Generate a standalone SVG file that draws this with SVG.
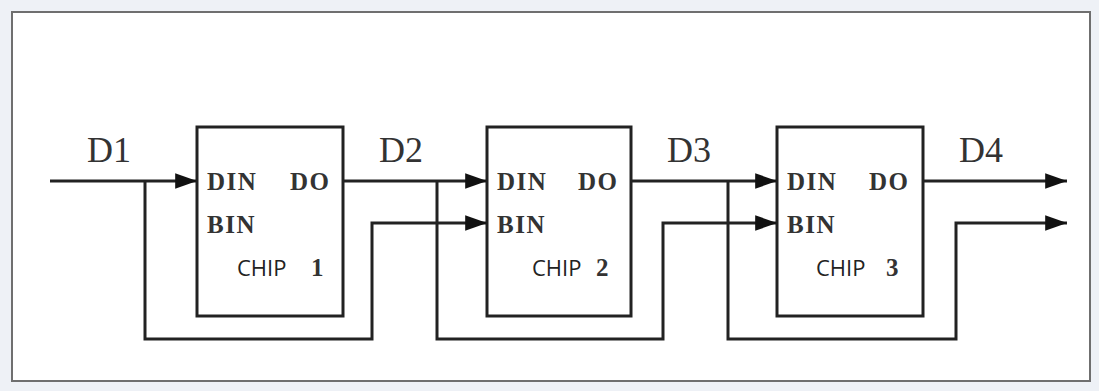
<svg xmlns="http://www.w3.org/2000/svg" width="1099" height="391" viewBox="0 0 1099 391">
<defs>
<style>
.chip{fill:#fff;stroke:#222;stroke-width:3}
.w{fill:none;stroke:#222;stroke-width:3}
.pin{font-family:"Liberation Serif",serif;font-weight:bold;font-size:25px;fill:#333;letter-spacing:1.5px}
.lab{font-family:"Liberation Serif",serif;font-size:36px;fill:#333}
.name{font-family:"Open Sans","Liberation Sans",sans-serif;font-size:22px;fill:#222}
.num{font-family:"Liberation Serif",serif;font-weight:bold;font-size:25px;fill:#333}
</style>
<marker id="ah" viewBox="0 0 14 10" refX="14" refY="5" markerWidth="7.3" markerHeight="5.2" markerUnits="strokeWidth" orient="auto">
<path d="M0,0 L14,5 L0,10 Z" fill="#111"/>
</marker>
</defs>
<rect x="0" y="0" width="1099" height="391" fill="#eef1f6"/>
<rect x="12" y="12" width="1078" height="369" fill="#fff" stroke="#6f6f6f" stroke-width="2"/>
<g id="chip1">
<rect class="chip" x="197" y="127" width="146" height="189"/>
<text class="pin" x="207" y="190">DIN</text>
<text class="pin" x="290" y="190">DO</text>
<text class="pin" x="207" y="233">BIN</text>
<text class="name" x="237" y="276">CHIP</text>
<text class="num" x="311" y="276">1</text>
</g>
<g id="chip2">
<rect class="chip" x="487" y="127" width="144" height="189"/>
<text class="pin" x="497" y="190">DIN</text>
<text class="pin" x="578" y="190">DO</text>
<text class="pin" x="497" y="233">BIN</text>
<text class="name" x="532" y="276">CHIP</text>
<text class="num" x="596" y="276">2</text>
</g>
<g id="chip3">
<rect class="chip" x="777" y="127" width="146" height="189"/>
<text class="pin" x="787" y="190">DIN</text>
<text class="pin" x="869" y="190">DO</text>
<text class="pin" x="787" y="233">BIN</text>
<text class="name" x="816" y="276">CHIP</text>
<text class="num" x="886" y="276">3</text>
</g>
<g id="labels">
<text class="lab" x="87" y="162">D1</text>
<text class="lab" x="379" y="162">D2</text>
<text class="lab" x="667" y="162">D3</text>
<text class="lab" x="959" y="162">D4</text>
</g>
<g id="connectors">
<path class="w" d="M50,181 H197" marker-end="url(#ah)"/>
<path class="w" d="M145,181 V339 H372 V223 H487" marker-end="url(#ah)"/>
<path class="w" d="M343,181 H487" marker-end="url(#ah)"/>
<path class="w" d="M437,181 V339 H663 V223 H777" marker-end="url(#ah)"/>
<path class="w" d="M631,181 H777" marker-end="url(#ah)"/>
<path class="w" d="M728,181 V339 H956 V223 H1067" marker-end="url(#ah)"/>
<path class="w" d="M923,181 H1067" marker-end="url(#ah)"/>
</g>
</svg>
